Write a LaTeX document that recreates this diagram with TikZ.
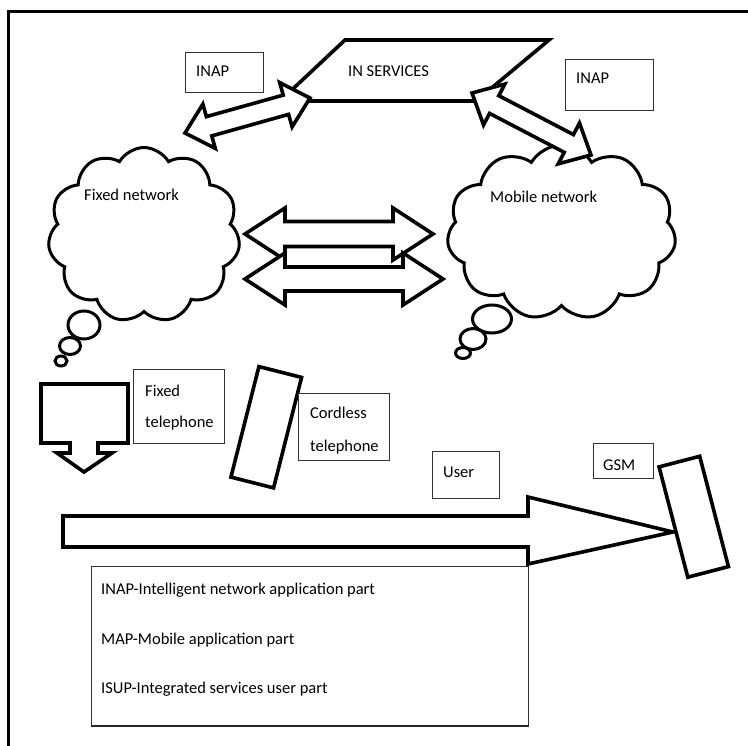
\documentclass[tikz,border=0pt]{standalone}
\usepackage{fontspec}
\setmainfont{Carlito}
\usetikzlibrary{shapes.symbols,shapes.geometric}
\tikzset{
  thickline/.style={draw=black, line width=3.6pt, line join=miter, fill=white},
  phonebox/.style={draw=black, line width=3.6pt, fill=white, inner sep=0pt, rectangle},
  labelbox/.style={draw=black!80, line width=1.1pt, fill=white, inner sep=0pt, rectangle, anchor=north west},
  lbl/.style={inner sep=0pt, anchor=base west, font=\fontsize{16.5}{19}\selectfont},
  netcloud/.style={cloud, draw=black, line width=3pt, fill=white, cloud puffs=11,
    cloud puff arc=120, inner sep=0pt},
  bubble/.style={draw=black, line width=3pt, fill=white},
  frameline/.style={draw=black, line width=3pt},
}
% #1 x, #2 y of first tip, #3 angle, #4 length, #5 shaft half width, #6 head half width, #7 head length
\newcommand\blockdbl[7]{%
  \draw[thickline, shift={(#1,#2)}, rotate=#3] (0,0) -- (#7,#6) -- (#7,#5) -- ({#4-#7},#5)
    -- ({#4-#7},#6) -- (#4,0) -- ({#4-#7},-#6) -- ({#4-#7},-#5) -- (#7,-#5) -- (#7,-#6) -- cycle;}
\begin{document}
\begin{tikzpicture}[x=1pt,y=-1pt]
\useasboundingbox (0,0) rectangle (748,746);
% frame
\draw[frameline] (8,746) -- (8,12) -- (748,12);

% IN SERVICES
\draw[thickline] (345,40) -- (549,40) -- (476,101) -- (280,101) -- cycle;
\node[lbl] (insv) at (348,77) {IN SERVICES};

% INAP boxes
\node[labelbox, minimum width=78, minimum height=40] (inapLbox) at (185,52) {};
\node[lbl] (inapL) at (196,77) {INAP};
\node[labelbox, minimum width=88, minimum height=51] (inapRbox) at (565,59) {};
\node[lbl] (inapR) at (576,84) {INAP};

% clouds
\node[netcloud, minimum width=192, minimum height=175, aspect=1.1] (fixednet) at (144,235) {};
\draw[bubble] (84,325) ellipse [x radius=16, y radius=14];
\draw[bubble] (70,346) ellipse [x radius=10.5, y radius=8.5];
\draw[bubble] (61,361) ellipse [x radius=6, y radius=5];
\node[lbl] (fixedlbl) at (84,201) {Fixed network};
\node[netcloud, minimum width=229, minimum height=175, aspect=1.31] (mobilenet) at (561.5,232.5) {};
\draw[bubble] (492,319) ellipse [x radius=19.5, y radius=14];
\draw[bubble] (473,339) ellipse [x radius=13, y radius=10.5];
\draw[bubble] (463,353) ellipse [x radius=7.5, y radius=5.5];
\node[lbl] (mobilelbl) at (490,203) {Mobile network};

% INAP block arrows
\blockdbl{185}{133}{15.64}{129.8}{10}{23}{25}
\blockdbl{472}{93}{-27.52}{134.2}{10}{23}{25}

% middle arrows
\blockdbl{245}{234}{0}{188}{12.5}{26}{40}
\blockdbl{245}{279}{0}{198}{12}{26}{40}

% fixed telephone
\draw[thickline] (41,384) -- (128,384) -- (128,443) -- (98,443) -- (98,453) -- (112,453)
  -- (84,472) -- (57,453) -- (70,453) -- (70,443) -- (41,443) -- cycle;
\node[labelbox, minimum width=91, minimum height=74] (fixedbox) at (133,369) {};
\node[lbl] (fixedt1) at (145,396) {Fixed};
\node[lbl] (fixedt2) at (145,428) {telephone};

% cordless telephone
\node[phonebox, minimum width=114, minimum height=44, rotate=75.8] (cordless) at (266.25,427.25) {};
\node[labelbox, minimum width=91, minimum height=67] (cordbox) at (298,393) {};
\node[lbl] (cordt1) at (310,419) {Cordless};
\node[lbl] (cordt2) at (310,451) {telephone};

% user / GSM labels
\node[labelbox, minimum width=67, minimum height=47] (userbox) at (432,451) {};
\node[lbl] (usert) at (443,478) {User};
\node[labelbox, minimum width=60, minimum height=35] (gsmbox) at (593,443) {};
\node[lbl] (gsmt) at (603,470) {GSM};

% legend
\node[labelbox, fill=none, minimum width=437, minimum height=159] (legend) at (91,566) {};
\draw[line width=2.4pt, black!85] (legend.south west) -- (legend.south east);
\node[lbl] (leg1) at (101,594) {INAP-Intelligent network application part};
\node[lbl] (leg2) at (101,644) {MAP-Mobile application part};
\node[lbl] (leg3) at (101,693) {ISUP-Integrated services user part};

% user arrow
\draw[thickline] (63,516) -- (528,516) -- (528,497) -- (673,532) -- (528,564) -- (528,547) -- (63,547) -- cycle;

% GSM phone
\node[phonebox, minimum width=114, minimum height=42, rotate=104.6] (gsm) at (693.75,516.75) {};
\end{tikzpicture}
\end{document}
